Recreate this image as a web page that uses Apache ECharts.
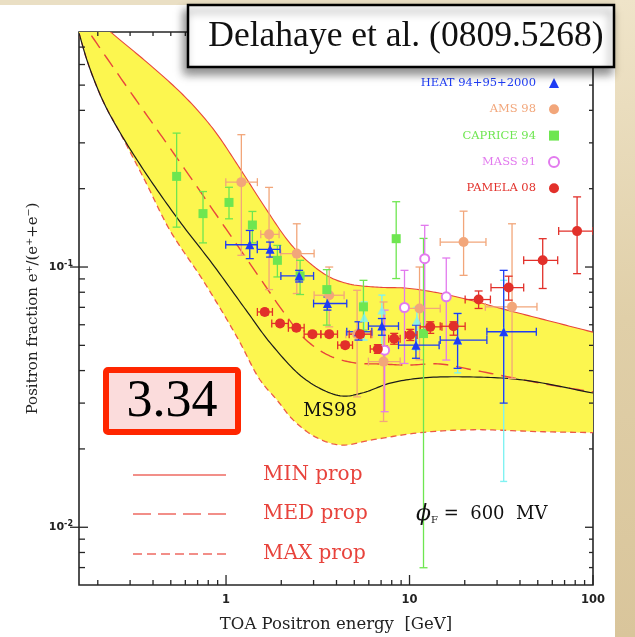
<!DOCTYPE html>
<html><head><meta charset="utf-8">
<script src="https://cdn.jsdelivr.net/npm/echarts@6/dist/echarts.min.js"></script>
<style>html,body{margin:0;padding:0;background:#fff;}#c{width:635px;height:637px;}</style>
</head><body><div id="c"></div>
<script>
// ---------------- axis ranges & ticks ----------------
const X_MIN = 0.158, X_MAX = 100;
const Y_MIN = 0.006, Y_MAX = 0.8;
const xMajorTicks = [1, 10, 100];
const xMajorLabels = ['1', '10', '100'];
const xMinorTicks = [0.2,0.3,0.4,0.5,0.6,0.7,0.8,0.9,2,3,4,5,6,7,8,9,20,30,40,50,60,70,80,90];
const yMajorTicks = [0.01, 0.1];
const yMajorExp = ['-2', '-1'];
const yMinorTicks = [0.007,0.008,0.009,0.02,0.03,0.04,0.05,0.06,0.07,0.08,0.09,0.2,0.3,0.4,0.5,0.6,0.7];

// ---------------- model curves ----------------
const minPropE = [0.158, 0.239, 0.385, 0.5975, 0.849, 1.192, 1.632, 2.234, 2.872, 3.693, 4.75, 6.83, 9.71, 14.7, 21.4, 34.1, 58.6, 100];
const minPropF = [1.03, 0.792, 0.598, 0.4508, 0.340, 0.2389, 0.1693, 0.1233, 0.1033, 0.0913, 0.0859, 0.0836, 0.0829, 0.0793, 0.0746, 0.0683, 0.0619, 0.0562];
const medPropE = [0.158, 0.181, 0.288, 0.4477, 0.636, 0.860, 1.163, 1.572, 2.098, 2.732, 3.693, 5.055, 6.92, 9.71, 14.7, 22.3, 51.6, 100];
const medPropF = [0.92, 0.792, 0.4924, 0.3168, 0.2226, 0.1634, 0.1200, 0.0882, 0.0659, 0.0524, 0.0455, 0.0428, 0.0424, 0.0420, 0.0424, 0.0402, 0.0358, 0.0331];
const maxPropE = [0.158, 0.1767, 0.2133, 0.2608, 0.3614, 0.495, 0.749, 1.148, 1.533, 1.897, 2.32, 3.06, 4.19, 6.34, 11.44, 22.3, 51.6, 100];
const maxPropF = [0.792, 0.608, 0.435, 0.334, 0.2149, 0.1382, 0.0889, 0.0538, 0.0368, 0.0308, 0.02586, 0.02226, 0.0207, 0.0217, 0.0231, 0.0237, 0.0233, 0.0231];
const ms98E = [0.158, 0.1767, 0.2133, 0.2608, 0.3662, 0.554, 0.839, 1.286, 1.782, 2.732, 4.19, 5.52, 7.85, 11.88, 22.3, 41.7, 100];
const ms98F = [0.792, 0.608, 0.435, 0.334, 0.2286, 0.151, 0.1033, 0.0683, 0.0501, 0.0368, 0.0320, 0.0328, 0.0358, 0.0375, 0.0378, 0.0368, 0.0328];

// ---------------- data: HEAT 94+95+2000 ----------------
const heatE   = [1.347, 1.738, 2.502, 3.57, 5.27, 7.07, 10.84, 18.28, 32.6];
const heatF   = [0.1218, 0.1169, 0.0924, 0.0724, 0.0564, 0.0593, 0.0501, 0.0524, 0.0564];
const heatElo = [0.996, 1.48, 1.99, 3.0, 4.55, 5.97, 8.71, 14.7, 26.4];
const heatEhi = [1.48, 1.97, 3.0, 4.55, 6.23, 8.71, 14.5, 26.4, 49.1];
const heatFlo = [0.1077, 0.1092, 0.0876, 0.0683, 0.0524, 0.0547, 0.0446, 0.0408, 0.0300];
const heatFhi = [0.1382, 0.1247, 0.0971, 0.0767, 0.0616, 0.0634, 0.0598, 0.0663, 0.0971];
// HEAT 2000 subset (cyan)
const heat2E   = [5.66, 7.07, 10.97, 18.3, 32.6];
const heat2F   = [0.0640, 0.0683, 0.0625, 0.0524, 0.0564];
const heat2Flo = [0.0524, 0.0472, 0.0480, 0.0392, 0.0150];
const heat2Fhi = [0.0734, 0.0780, 0.0700, 0.0663, 0.0889];

// ---------------- AMS 98 ----------------
const amsE   = [1.212, 1.716, 2.43, 3.65, 5.18, 7.22, 11.34, 19.71, 36.2];
const amsF   = [0.2119, 0.1335, 0.1126, 0.0779, 0.0552, 0.0433, 0.0693, 0.1247, 0.0703];
const amsElo = [0.997, 1.546, 1.988, 3.02, 4.50, 5.97, 9.09, 14.7, 25.9];
const amsEhi = [1.482, 1.946, 3.02, 4.40, 6.28, 8.89, 14.7, 26.1, 49.5];
const amsFlo = [0.1109, 0.0819, 0.0791, 0.0589, 0.0317, 0.0255, 0.0440, 0.0929, 0.0373];
const amsFhi = [0.3225, 0.2023, 0.1466, 0.1000, 0.0814, 0.0734, 0.1000, 0.1639, 0.1466];

// ---------------- CAPRICE 94 ----------------
const capE   = [0.538, 0.749, 1.038, 1.392, 1.905, 2.533, 3.543, 5.61, 8.46, 11.92];
const capF   = [0.223, 0.1604, 0.1771, 0.145, 0.1061, 0.0924, 0.0819, 0.0703, 0.1285, 0.0555];
const capFlo = [0.1423, 0.1238, 0.1532, 0.1238, 0.0916, 0.0784, 0.0598, 0.0572, 0.0903, 0.00699];
const capFhi = [0.327, 0.195, 0.2025, 0.1635, 0.1211, 0.1061, 0.0977, 0.0889, 0.1782, 0.1288];

// ---------------- MASS 91 ----------------
const massE   = [7.32, 9.39, 12.1, 15.86];
const massF   = [0.0479, 0.0699, 0.1077, 0.0768];
const massFlo = [0.0278, 0.0426, 0.0571, 0.0439];
const massFhi = [0.0683, 0.0971, 0.1446, 0.1083];

// ---------------- PAMELA 08 ----------------
const pamE   = [1.626, 1.970, 2.418, 2.957, 3.65, 4.46, 5.38, 6.72, 8.25, 10.09, 12.97, 17.38, 23.8, 34.7, 53.2, 81.9];
const pamF   = [0.0672, 0.0607, 0.0584, 0.0552, 0.0552, 0.0501, 0.0552, 0.0484, 0.0530, 0.0548, 0.0589, 0.0592, 0.0750, 0.0834, 0.1061, 0.1374];
const pamElo = [1.482, 1.775, 2.187, 2.665, 3.286, 4.06, 4.69, 6.11, 7.70, 9.49, 11.44, 14.7, 20.1, 27.8, 41.9, 65.0];
const pamEhi = [1.79, 2.187, 2.665, 3.286, 4.05, 4.89, 6.16, 7.53, 8.89, 11.0, 15.02, 20.1, 27.6, 41.9, 64.2, 100];
const pamFlo = [0.0655, 0.0592, 0.0570, 0.0539, 0.0539, 0.0489, 0.0537, 0.0466, 0.0505, 0.0522, 0.0556, 0.0547, 0.0693, 0.0746, 0.0827, 0.0943];
const pamFhi = [0.0689, 0.0622, 0.0598, 0.0566, 0.0566, 0.0514, 0.0568, 0.0503, 0.0556, 0.0576, 0.0616, 0.0616, 0.0809, 0.0922, 0.1285, 0.1860];

// ---------------- helpers ----------------
function zip(E, F) { return E.map((e, i) => [e, F[i]]); }
function errData(E, F, Elo, Ehi, Flo, Fhi) {
  return E.map((e, i) => [e, F[i], Elo ? Elo[i] : 0, Ehi ? Ehi[i] : 0, Flo ? Flo[i] : 0, Fhi ? Fhi[i] : 0]);
}
// centripetal Catmull-Rom in pixel space
function spline(P, seg) {
  if (P.length < 3) return P.slice();
  const out = [];
  const d = (a, b) => Math.max(Math.pow(Math.hypot(b[0] - a[0], b[1] - a[1]), 0.5), 1e-4);
  const L = (a, b, wa, wb) => [a[0] * wa + b[0] * wb, a[1] * wa + b[1] * wb];
  for (let i = 0; i < P.length - 1; i++) {
    const p1 = P[i], p2 = P[i + 1];
    const p0 = i > 0 ? P[i - 1] : [2 * p1[0] - p2[0], 2 * p1[1] - p2[1]];
    const p3 = i + 2 < P.length ? P[i + 2] : [2 * p2[0] - p1[0], 2 * p2[1] - p1[1]];
    const t0 = 0, t1 = t0 + d(p0, p1), t2 = t1 + d(p1, p2), t3 = t2 + d(p2, p3);
    for (let k = 0; k < seg; k++) {
      const t = t1 + (t2 - t1) * k / seg;
      const A1 = L(p0, p1, (t1 - t) / (t1 - t0), (t - t0) / (t1 - t0));
      const A2 = L(p1, p2, (t2 - t) / (t2 - t1), (t - t1) / (t2 - t1));
      const A3 = L(p2, p3, (t3 - t) / (t3 - t2), (t - t2) / (t3 - t2));
      const B1 = L(A1, A2, (t2 - t) / (t2 - t0), (t - t0) / (t2 - t0));
      const B2 = L(A2, A3, (t3 - t) / (t3 - t1), (t - t1) / (t3 - t1));
      out.push(L(B1, B2, (t2 - t) / (t2 - t1), (t - t1) / (t2 - t1)));
    }
  }
  out.push(P[P.length - 1]);
  return out;
}
function curvePx(api, E, F) { return spline(E.map((e, i) => api.coord([e, F[i]])), 14); }

function makeErr(color, lw, cap) {
  return function (params, api) {
    const x = api.value(0), y = api.value(1);
    const xl = api.value(2), xh = api.value(3), yl = api.value(4), yh = api.value(5);
    const st = { stroke: color, lineWidth: lw };
    const ch = [];
    if (yl > 0 && yh > 0) {
      const a = api.coord([x, yl]), b = api.coord([x, yh]);
      ch.push({ type: 'line', shape: { x1: a[0], y1: a[1], x2: b[0], y2: b[1] }, style: st });
      ch.push({ type: 'line', shape: { x1: a[0] - cap, y1: a[1], x2: a[0] + cap, y2: a[1] }, style: st });
      ch.push({ type: 'line', shape: { x1: b[0] - cap, y1: b[1], x2: b[0] + cap, y2: b[1] }, style: st });
    }
    if (xl > 0 && xh > 0) {
      const a = api.coord([xl, y]), b = api.coord([xh, y]);
      ch.push({ type: 'line', shape: { x1: a[0], y1: a[1], x2: b[0], y2: b[1] }, style: st });
      ch.push({ type: 'line', shape: { x1: a[0], y1: a[1] - cap, x2: a[0], y2: a[1] + cap }, style: st });
      ch.push({ type: 'line', shape: { x1: b[0], y1: b[1] - cap, x2: b[0], y2: b[1] + cap }, style: st });
    }
    return { type: 'group', children: ch };
  };
}

const C_HEAT = '#1e3cf5', C_HEAT2 = '#80f2f2', C_AMS = '#f2a67a', C_CAP = '#6ee650', C_MASS = '#e27aee', C_PAM = '#e2302a';
const SERIF = '"DejaVu Serif", "Liberation Serif", serif';
const AX = '#262626';

const chart = echarts.init(document.getElementById('c'), null, { renderer: 'canvas', width: 635, height: 637 });

function errSeries(name, data, color, lw, cap, z) {
  return { type: 'custom', name: name + '_err', coordinateSystem: 'cartesian2d', clip: true, z: z,
    renderItem: makeErr(color, lw, cap), encode: { x: 0, y: 1 }, data: data, silent: true };
}

const option = {
  animation: false,
  backgroundColor: '#ffffff',
  grid: { left: 79, top: 32, right: 42, bottom: 52, show: true, borderColor: AX, borderWidth: 1.6,
          backgroundColor: '#ffffff', containLabel: false, outerBoundsMode: 'none' },
  xAxis: {
    type: 'log', logBase: 10, min: X_MIN, max: X_MAX,
    axisLine: { show: false }, axisTick: { show: false }, axisLabel: { show: false },
    splitLine: { show: false }, minorTick: { show: false }, minorSplitLine: { show: false },
    name: 'TOA Positron energy  [GeV]', nameLocation: 'middle', nameGap: 31,
    nameTextStyle: { fontFamily: SERIF, fontSize: 16.5, color: '#222' }
  },
  yAxis: {
    type: 'log', logBase: 10, min: Y_MIN, max: Y_MAX,
    axisLine: { show: false }, axisTick: { show: false }, axisLabel: { show: false },
    splitLine: { show: false }, minorTick: { show: false }, minorSplitLine: { show: false },
    name: 'Positron fraction e\u207A/(e\u207A+e\u207B)', nameLocation: 'middle', nameGap: 38,
    nameTextStyle: { fontFamily: SERIF, fontSize: 15, color: '#222' }
  },
  legend: {
    orient: 'vertical', right: 75, top: 76, padding: 0, align: 'right',
    itemWidth: 10, itemHeight: 10, itemGap: 12.3, selectedMode: false,
    textStyle: { fontFamily: SERIF, fontSize: 11.5, lineHeight: 14, padding: [0, 8, 0, 0] },
    data: [
      { name: 'HEAT 94+95+2000', textStyle: { color: C_HEAT } },
      { name: 'AMS 98', textStyle: { color: C_AMS } },
      { name: 'CAPRICE 94', textStyle: { color: C_CAP } },
      { name: 'MASS 91', textStyle: { color: C_MASS } },
      { name: 'PAMELA 08', textStyle: { color: C_PAM } }
    ]
  },
  graphic: [
    { type: 'rect', z: 0, shape: { x: 0, y: 0, width: 635, height: 5 }, style: { fill: '#eadfc4' } },
    { type: 'rect', z: 0, shape: { x: 615, y: 0, width: 20, height: 637 },
      style: { fill: new echarts.graphic.LinearGradient(0, 0, 1, 1, [
        { offset: 0, color: '#efe4c9' }, { offset: 0.5, color: '#e0cfa8' }, { offset: 1, color: '#d9c59b' }]) } },
    // title box
    { type: 'rect', z: 100, shape: { x: 188, y: 5, width: 426, height: 62 },
      style: { fill: '#ffffff', stroke: '#000', lineWidth: 2.5, shadowBlur: 9, shadowOffsetX: -3, shadowOffsetY: 6, shadowColor: 'rgba(0,0,0,0.45)' } },
    { type: 'text', z: 101, style: { text: 'Delahaye et al. (0809.5268)', x: 406, y: 37, align: 'center', verticalAlign: 'middle',
      font: '35.5px "Liberation Serif", "DejaVu Serif", serif', fill: '#111' } },
    // 3.34 box
    { type: 'rect', z: 100, shape: { x: 106, y: 370, width: 132, height: 62, r: 2 },
      style: { fill: '#fbdcdc', stroke: '#ff2600', lineWidth: 6 } },
    { type: 'text', z: 101, style: { text: '3.34', x: 172, y: 402, align: 'center', verticalAlign: 'middle',
      font: '52px "Liberation Serif", serif', fill: '#000' } },
    // MS98 label
    { type: 'text', z: 50, style: { text: 'MS98', x: 330, y: 411, align: 'center', verticalAlign: 'middle',
      font: '18px ' + SERIF, fill: '#111' } },
    // MIN / MED / MAX legend
    { type: 'line', z: 50, shape: { x1: 133, y1: 475, x2: 226, y2: 475 }, style: { stroke: '#ee6a62', lineWidth: 1.4 } },
    { type: 'line', z: 50, shape: { x1: 133, y1: 514, x2: 226, y2: 514 }, style: { stroke: '#ee6a62', lineWidth: 1.4, lineDash: [18, 7] } },
    { type: 'line', z: 50, shape: { x1: 133, y1: 554, x2: 226, y2: 554 }, style: { stroke: '#ee6a62', lineWidth: 1.4, lineDash: [9, 5] } },
    { type: 'text', z: 50, style: { text: 'MIN prop', x: 263, y: 475, verticalAlign: 'middle', font: '20px ' + SERIF, fill: '#e8433c' } },
    { type: 'text', z: 50, style: { text: 'MED prop', x: 263, y: 514, verticalAlign: 'middle', font: '20px ' + SERIF, fill: '#e8433c' } },
    { type: 'text', z: 50, style: { text: 'MAX prop', x: 263, y: 554, verticalAlign: 'middle', font: '20px ' + SERIF, fill: '#e8433c' } },
    { type: 'text', z: 50, style: { text: '{p|\u03D5}{s|F}{t| =  600  MV}', x: 416, y: 514, verticalAlign: 'middle',
      rich: { p: { font: 'italic 22px ' + SERIF, fill: '#111' }, s: { font: '10px ' + SERIF, fill: '#111', verticalAlign: 'bottom', padding: [8, 0, 0, 0] },
              t: { font: '18px ' + SERIF, fill: '#111' } } } }
  ],
  series: [
    // yellow band
    { type: 'custom', name: 'band', coordinateSystem: 'cartesian2d', clip: true, z: 1, silent: true,
      encode: { x: 0, y: 1 }, data: [[1, 0.1]],
      renderItem: function (params, api) {
        const up = curvePx(api, minPropE, minPropF);
        const lo = curvePx(api, maxPropE, maxPropF);
        return { type: 'polygon', shape: { points: up.concat(lo.reverse()) }, style: { fill: '#fcf64f', stroke: null } };
      } },
    // curves
    { type: 'custom', name: 'curves', coordinateSystem: 'cartesian2d', clip: true, z: 2, silent: true,
      encode: { x: 0, y: 1 }, data: [[1, 0.1, 0], [1, 0.1, 1], [1, 0.1, 2], [1, 0.1, 3]],
      renderItem: function (params, api) {
        const k = api.value(2);
        const defs = [
          [minPropE, minPropF, { stroke: '#e8463c', lineWidth: 1.1 }],
          [medPropE, medPropF, { stroke: '#e8463c', lineWidth: 1.4, lineDash: [15, 8] }],
          [maxPropE, maxPropF, { stroke: '#ec5a48', lineWidth: 1.3, lineDash: [6, 4] }],
          [ms98E, ms98F, { stroke: '#1b1b1b', lineWidth: 1.2 }]
        ];
        const d = defs[k];
        return { type: 'polyline', shape: { points: curvePx(api, d[0], d[1]) }, style: Object.assign({ fill: null }, d[2]) };
      } },
    // error bars
    errSeries('HEAT2', errData(heat2E, heat2F, null, null, heat2Flo, heat2Fhi), C_HEAT2, 1.4, 3.5, 3),
    errSeries('AMS', errData(amsE, amsF, amsElo, amsEhi, amsFlo, amsFhi), C_AMS, 1.3, 4, 3),
    errSeries('CAP', errData(capE, capF, null, null, capFlo, capFhi), C_CAP, 1.3, 4, 3),
    errSeries('MASS', errData(massE, massF, null, null, massFlo, massFhi), C_MASS, 1.3, 4, 3),
    errSeries('HEAT', errData(heatE, heatF, heatElo, heatEhi, heatFlo, heatFhi), C_HEAT, 1.3, 4, 4),
    errSeries('PAM', errData(pamE, pamF, pamElo, pamEhi, pamFlo, pamFhi), C_PAM, 1.3, 4, 4),
    // symbols
    { type: 'scatter', name: 'HEAT 2000', data: zip(heat2E, heat2F), symbol: 'triangle', symbolSize: 9,
      itemStyle: { color: C_HEAT2 }, z: 5, clip: true, silent: true },
    { type: 'scatter', name: 'AMS 98', data: zip(amsE, amsF), symbol: 'circle', symbolSize: 10,
      itemStyle: { color: C_AMS, opacity: 1 }, z: 5, clip: true, silent: true },
    { type: 'scatter', name: 'CAPRICE 94', data: zip(capE, capF), symbol: 'rect', symbolSize: 9,
      itemStyle: { color: C_CAP, opacity: 1 }, z: 5, clip: true, silent: true },
    { type: 'scatter', name: 'MASS 91', data: zip(massE, massF), symbol: 'emptyCircle', symbolSize: 9,
      itemStyle: { color: C_MASS, borderColor: C_MASS, borderWidth: 1.4, opacity: 1 }, z: 5, clip: true, silent: true },
    { type: 'scatter', name: 'HEAT 94+95+2000', data: zip(heatE, heatF), symbol: 'triangle', symbolSize: 9,
      itemStyle: { color: C_HEAT, opacity: 1 }, z: 6, clip: true, silent: true },
    { type: 'scatter', name: 'PAMELA 08', data: zip(pamE, pamF), symbol: 'circle', symbolSize: 10,
      itemStyle: { color: C_PAM, opacity: 1 }, z: 6, clip: true, silent: true },
    // x ticks + labels
    { type: 'custom', name: 'xticks', coordinateSystem: 'cartesian2d', clip: false, z: 20, silent: true,
      encode: { x: 0, y: 1 },
      data: xMajorTicks.map((v, i) => [v, Y_MIN, 1, i]).concat(xMinorTicks.map(v => [v, Y_MIN, 0, -1])),
      renderItem: function (params, api) {
        const v = api.value(0), major = api.value(2) === 1;
        const b = api.coord([v, Y_MIN]), t = api.coord([v, Y_MAX]);
        const st = { stroke: AX, lineWidth: 1.3 };
        const lb = major ? 10 : 5, lt = major ? 8 : 4;
        const ch = [
          { type: 'line', shape: { x1: b[0], y1: b[1], x2: b[0], y2: b[1] - lb }, style: st },
          { type: 'line', shape: { x1: t[0], y1: t[1], x2: t[0], y2: t[1] + lt }, style: st }
        ];
        if (major) ch.push({ type: 'text', style: { text: xMajorLabels[api.value(3)], x: b[0], y: b[1] + 15, align: 'center', verticalAlign: 'middle',
          font: 'bold 11.5px "DejaVu Sans", sans-serif', fill: '#222' } });
        return { type: 'group', children: ch };
      } },
    // y ticks + labels
    { type: 'custom', name: 'yticks', coordinateSystem: 'cartesian2d', clip: false, z: 20, silent: true,
      encode: { x: 0, y: 1 },
      data: yMajorTicks.map((v, i) => [X_MIN, v, 1, i]).concat(yMinorTicks.map(v => [X_MIN, v, 0, -1])),
      renderItem: function (params, api) {
        const v = api.value(1), major = api.value(2) === 1;
        const l = api.coord([X_MIN, v]), r = api.coord([X_MAX, v]);
        const st = { stroke: AX, lineWidth: 1.3 };
        const ch = [
          { type: 'line', shape: { x1: major ? l[0] - 9 : l[0], y1: l[1], x2: l[0] + (major ? 9 : 6), y2: l[1] }, style: st },
          { type: 'line', shape: { x1: r[0], y1: r[1], x2: r[0] - (major ? 8 : 4), y2: r[1] }, style: st }
        ];
        if (major) ch.push({ type: 'text', style: { text: '{b|10}{s|' + yMajorExp[api.value(3)] + '}', x: l[0] - 6, y: l[1], align: 'right', verticalAlign: 'middle',
          rich: { b: { font: 'bold 11px "DejaVu Sans", sans-serif', fill: '#222', lineHeight: 14 },
                  s: { font: 'bold 8px "DejaVu Sans", sans-serif', fill: '#222', verticalAlign: 'top', lineHeight: 8 } } } });
        return { type: 'group', children: ch };
      } }
  ]
};
chart.setOption(option);
</script>
</body></html>
